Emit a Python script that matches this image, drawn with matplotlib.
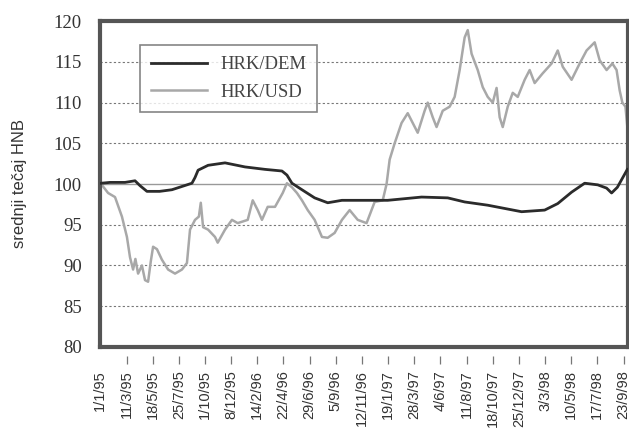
import pandas as pd
import numpy as np
import matplotlib.pyplot as plt
import matplotlib.transforms as mtransforms

# HRK/USD index (srednji tecaj HNB)
usd_dates = ['1995-01-04', '1995-01-22', '1995-02-09', '1995-02-27', '1995-03-12', '1995-03-20',
             '1995-03-28', '1995-04-03', '1995-04-10', '1995-04-20', '1995-04-28', '1995-05-06',
             '1995-05-13', '1995-05-19', '1995-05-29', '1995-06-11', '1995-06-27', '1995-07-15',
             '1995-08-02', '1995-08-15', '1995-08-23', '1995-09-05', '1995-09-15', '1995-09-20',
             '1995-09-26', '1995-10-09', '1995-10-27', '1995-11-03', '1995-11-22', '1995-12-10',
             '1995-12-25', '1996-01-20', '1996-02-02', '1996-02-15', '1996-02-26', '1996-03-12',
             '1996-03-31', '1996-04-20', '1996-05-01', '1996-05-14', '1996-05-27', '1996-06-09',
             '1996-06-24', '1996-07-12', '1996-07-31', '1996-08-15', '1996-09-02', '1996-09-21',
             '1996-10-11', '1996-11-01', '1996-11-24', '1996-12-15', '1997-01-05', '1997-01-15',
             '1997-01-23', '1997-02-05', '1997-02-23', '1997-03-11', '1997-03-24', '1997-04-06',
             '1997-04-24', '1997-05-02', '1997-05-15', '1997-05-25', '1997-06-10', '1997-06-28',
             '1997-07-11', '1997-07-24', '1997-08-06', '1997-08-14', '1997-08-24', '1997-09-09',
             '1997-09-22', '1997-10-05', '1997-10-18', '1997-10-28', '1997-11-05', '1997-11-13',
             '1997-11-26', '1997-12-09', '1997-12-22', '1998-01-09', '1998-01-22', '1998-02-04',
             '1998-02-25', '1998-03-20', '1998-04-05', '1998-04-18', '1998-05-11', '1998-06-01',
             '1998-06-19', '1998-07-10', '1998-07-23', '1998-08-10', '1998-08-25', '1998-09-05',
             '1998-09-13', '1998-09-20', '1998-09-28', '1998-10-03']
usd_values = [100.0, 98.9, 98.4, 96.0, 93.5, 91.0,
              89.5, 90.8, 89.0, 90.0, 88.2, 88.0,
              90.5, 92.3, 92.0, 90.7, 89.5, 89.0,
              89.5, 90.3, 94.4, 95.6, 96.0, 97.7,
              94.7, 94.4, 93.5, 92.8, 94.4, 95.6,
              95.2, 95.6, 98.0, 96.8, 95.6, 97.2,
              97.2, 98.9, 100.1, 99.6, 98.9, 98.0,
              96.8, 95.6, 93.5, 93.4, 94.0, 95.6,
              96.8, 95.6, 95.2, 97.8, 98.0, 100.0,
              103.0, 105.0, 107.5, 108.7, 107.5, 106.3,
              109.0, 110.0, 108.2, 107.0, 109.0, 109.5,
              110.7, 114.0, 118.0, 118.9, 116.0, 114.0,
              111.9, 110.7, 110.0, 111.8, 108.2, 107.0,
              109.5, 111.2, 110.7, 112.8, 114.0, 112.4,
              113.6, 114.8, 116.4, 114.4, 112.8, 114.8,
              116.4, 117.4, 115.2, 114.0, 114.8, 114.0,
              111.5, 110.0, 109.5, 107.0]

# HRK/DEM index
dem_dates = ['1995-01-04', '1995-01-27', '1995-03-07', '1995-04-02', '1995-04-15', '1995-05-03',
             '1995-06-05', '1995-07-07', '1995-08-02', '1995-08-28', '1995-09-05', '1995-09-13',
             '1995-10-09', '1995-11-22', '1996-01-13', '1996-03-05', '1996-04-18', '1996-05-01',
             '1996-05-14', '1996-06-09', '1996-07-12', '1996-08-15', '1996-09-21', '1996-11-01',
             '1997-01-18', '1997-04-16', '1997-06-23', '1997-08-06', '1997-10-05', '1997-11-18',
             '1998-01-01', '1998-03-02', '1998-04-05', '1998-05-11', '1998-06-14', '1998-07-18',
             '1998-08-10', '1998-08-23', '1998-09-07', '1998-10-03']
dem_values = [100.1, 100.2, 100.2, 100.4, 99.8, 99.1,
              99.1, 99.3, 99.7, 100.1, 100.8, 101.7,
              102.3, 102.6, 102.1, 101.8, 101.6, 101.1,
              100.1, 99.3, 98.3, 97.7, 98.0, 98.0,
              98.0, 98.4, 98.3, 97.8, 97.4, 97.0,
              96.6, 96.8, 97.6, 99.0, 100.1, 99.9,
              99.5, 98.9, 99.6, 101.8]

tick_labels = ['1/1/95', '11/3/95', '18/5/95', '25/7/95', '1/10/95', '8/12/95', '14/2/96',
               '22/4/96', '29/6/96', '5/9/96', '12/11/96', '19/1/97', '28/3/97', '4/6/97',
               '11/8/97', '18/10/97', '25/12/97', '3/3/98', '10/5/98', '17/7/98', '23/9/98']

usd = pd.Series(usd_values, index=pd.to_datetime(usd_dates))
dem = pd.Series(dem_values, index=pd.to_datetime(dem_dates))
tick_pos = pd.to_datetime(tick_labels, format='%d/%m/%y')

fig = plt.figure(figsize=(6.29, 4.32), dpi=100)
ax = fig.add_axes([0.159, 0.197, 0.839, 0.754])

# grid: dotted lines, solid line at 100
for lvl in [85, 90, 95, 105, 110, 115]:
    ax.axhline(lvl, color='#777777', lw=0.8, ls=(0, (2, 2)), zorder=1)
ax.axhline(100, color='#999999', lw=1.0, zorder=1)

ax.plot(dem.index, dem.values, color='#2b2b2b', lw=2.0, label='HRK/DEM', zorder=3)
ax.plot(usd.index, usd.values, color='#a8a8a8', lw=1.8, label='HRK/USD', zorder=2)

ax.set_ylim(80, 120)
ax.set_yticks(range(80, 121, 5))
ax.set_xlim(pd.Timestamp('1995-01-01'), pd.Timestamp('1998-10-04'))
ax.set_xticks(tick_pos)
ax.set_xticklabels(tick_labels, rotation=90, fontsize=10.5, family='Liberation Sans', color='#333333')
ax.tick_params(axis='y', length=0, pad=13, labelsize=13.5, labelcolor='#333333')
ax.tick_params(axis='x', length=0, pad=16.5)
for lab in ax.get_yticklabels():
    lab.set_family('Liberation Serif')

# small detached tick marks below the frame
trans = mtransforms.blended_transform_factory(ax.transData, ax.transAxes)
ax.plot(tick_pos[1:], [-0.04] * (len(tick_pos) - 1), ls='none', marker='|', ms=6, mew=0.9,
        color='#777777', transform=trans, clip_on=False)

for sp in ax.spines.values():
    sp.set_linewidth(3)
    sp.set_color('#555555')

leg = ax.legend(loc='upper left', bbox_to_anchor=(0.076, 0.926), frameon=True, fancybox=False,
                prop={'family': 'Liberation Serif', 'size': 13.4}, handlelength=3.0,
                labelspacing=0.55, borderpad=0.6, handletextpad=0.7, borderaxespad=0)
leg.get_frame().set_edgecolor('#666666')
leg.get_frame().set_linewidth(1.2)
for t in leg.get_texts():
    t.set_color('#444444')

fig.text(20 / 629, 1 - 184 / 432, 'srednji tečaj HNB', rotation=90, ha='center', va='center',
         fontsize=12, family='Liberation Sans', color='#333333')

fig.savefig('out.png', dpi=100)
